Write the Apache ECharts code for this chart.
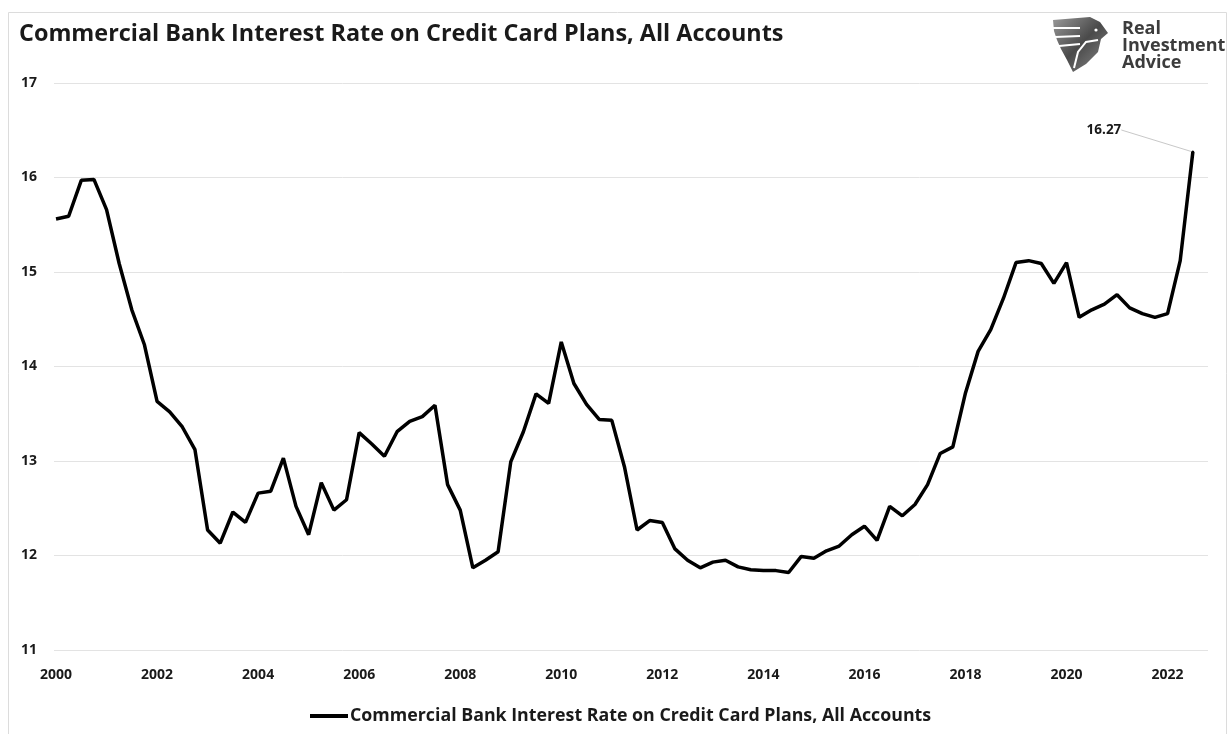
<!DOCTYPE html>
<html><head><meta charset="utf-8">
<script src="https://cdn.jsdelivr.net/npm/echarts@6/dist/echarts.min.js"></script>
<style>html,body{margin:0;padding:0;background:#fff}#c{width:1229px;height:734px}</style>
</head><body><div id="c"></div>
<script>
// ---- data ----
const startYear = 2000; // first observation: 2000 Q1, quarterly
const rates = [
  15.56, 15.59, 15.97, 15.98, 15.66, 15.09, 14.60, 14.23, 13.63, 13.52,
  13.36, 13.12, 12.27, 12.13, 12.46, 12.35, 12.66, 12.68, 13.03, 12.52,
  12.22, 12.77, 12.48, 12.59, 13.30, 13.18, 13.05, 13.31, 13.42, 13.47,
  13.59, 12.75, 12.48, 11.87, 11.95, 12.04, 12.99, 13.31, 13.71, 13.61,
  14.26, 13.82, 13.60, 13.44, 13.43, 12.94, 12.27, 12.37, 12.35, 12.07,
  11.95, 11.87, 11.93, 11.95, 11.88, 11.85, 11.84, 11.84, 11.82, 11.99,
  11.97, 12.05, 12.10, 12.22, 12.31, 12.16, 12.52, 12.42, 12.54, 12.75,
  13.08, 13.15, 13.72, 14.16, 14.39, 14.72, 15.10, 15.12, 15.09, 14.88,
  15.10, 14.52, 14.60, 14.66, 14.76, 14.62, 14.56, 14.52, 14.56, 15.12,
  16.27
];
const xTickLabels = [2000, 2002, 2004, 2006, 2008, 2010, 2012, 2014, 2016, 2018, 2020, 2022];
const yTickLabels = [11, 12, 13, 14, 15, 16, 17];
const seriesName = 'Commercial Bank Interest Rate on Credit Card Plans, All Accounts';
const chartTitle = 'Commercial Bank Interest Rate on Credit Card Plans, All Accounts';
const lastValueLabel = '16.27';
const logoLines = ['Real', 'Investment', 'Advice'];

// ---- build ----
const FONT = '"Open Sans", "Noto Sans", sans-serif';
const lastIdx = rates.length - 1;
const seriesData = rates.map((v, i) => {
  const item = { value: [startYear + i / 4, v] };
  if (i === lastIdx) {
    item.label = {
      show: true, position: 'left', distance: 5,
      formatter: lastValueLabel,
      color: '#1a1a1a', fontFamily: FONT, fontWeight: 'bold', fontSize: 13.5
    };
    item.labelLine = { show: true, lineStyle: { color: '#c8c8c8', width: 1 } };
  }
  return item;
});

const chart = echarts.init(document.getElementById('c'), null, { renderer: 'canvas' });
chart.setOption({
  backgroundColor: '#ffffff',
  animation: false,
  title: {
    text: chartTitle, left: 14, top: 18,
    textStyle: { fontFamily: FONT, fontWeight: 'bold', fontSize: 23.4, color: '#1a1a1a' }
  },
  grid: { left: 54, right: 21, top: 83, bottom: 84, containLabel: false },
  xAxis: {
    type: 'value',
    min: 1999.96, max: 2022.8,
    axisLine: { show: false }, axisTick: { show: false }, splitLine: { show: false },
    axisLabel: {
      customValues: xTickLabels, margin: 18,
      fontFamily: FONT, fontWeight: 'bold', fontSize: 14, color: '#1a1a1a',
      formatter: v => String(Math.round(v))
    }
  },
  yAxis: {
    type: 'value', min: yTickLabels[0], max: yTickLabels[yTickLabels.length - 1], interval: 1,
    axisLine: { show: false }, axisTick: { show: false },
    splitLine: { lineStyle: { color: '#e3e3e3', width: 1 } },
    axisLabel: { margin: 17, fontFamily: FONT, fontWeight: 'bold', fontSize: 14, color: '#1a1a1a' }
  },
  legend: {
    data: [{ name: seriesName, icon: 'rect' }], left: 310, top: 707, padding: 0,
    itemWidth: 38, itemHeight: 4,
    itemStyle: { color: '#000' },
    textStyle: { fontFamily: FONT, fontWeight: 'bold', fontSize: 17.8, color: '#1a1a1a', padding: [0, 0, 0, -3] }
  },
  series: [{
    name: seriesName, type: 'line', data: seriesData,
    symbol: 'circle', showSymbol: true,
    symbolSize: (val, params) => (params.dataIndex === lastIdx ? 3 : 0),
    lineStyle: { color: '#000', width: 3.5 }, itemStyle: { color: '#000' },
    labelLayout: { dx: -65, dy: -22 }
  }],
  graphic: [
    { type: 'rect', silent: true, shape: { x: 8.5, y: 12.5, width: 1218, height: 730 },
      style: { fill: 'none', stroke: '#dcdcdc', lineWidth: 1 } },
    { type: 'polygon', silent: true,
      shape: { points: [[1053,20],[1090,17],[1100,22],[1108,33],[1101,39],[1098,52],[1086,64],[1073,72],[1067,60],[1061,49],[1057,40],[1054,31]] },
      style: { fill: new echarts.graphic.LinearGradient(0, 0, 1, 1, [{ offset: 0, color: '#9a9a9a' }, { offset: 0.5, color: '#4a4a4a' }, { offset: 1, color: '#8a8a8a' }]) } },
    { type: 'polyline', silent: true, shape: { points: [[1052,28],[1080,28]] }, style: { stroke: '#fff', lineWidth: 2 } },
    { type: 'polyline', silent: true, shape: { points: [[1055,37],[1080,36]] }, style: { stroke: '#fff', lineWidth: 2 } },
    { type: 'polyline', silent: true, shape: { points: [[1059,46],[1080,44]] }, style: { stroke: '#fff', lineWidth: 2 } },
    { type: 'polyline', silent: true, shape: { points: [[1098,40],[1086,42],[1078,52],[1074,68]] }, style: { stroke: '#fff', lineWidth: 2, fill: 'none' } },
    { type: 'circle', silent: true, shape: { cx: 1096, cy: 30, r: 1.6 }, style: { fill: '#fff' } },
    { type: 'text', silent: true, left: 1122, top: 20,
      style: { text: logoLines.join('\n'), fontFamily: FONT, fontWeight: 'bold', fontSize: 18, lineHeight: 17, fill: '#3c3c3c' } }
  ]
});
</script></body></html>
